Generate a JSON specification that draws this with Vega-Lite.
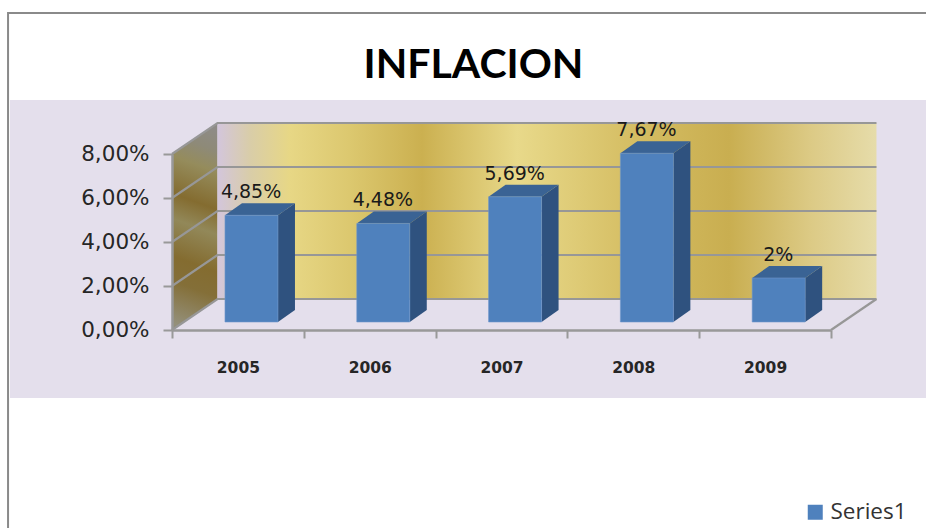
{
"$schema":"https://vega.github.io/schema/vega-lite/v6.json",
"autosize":"none",
"width":659,"height":176,
"padding":{"left":172,"top":154,"right":95,"bottom":198},
"background":"white",
"title":{"text":"INFLACION","font":"Lato","fontSize":41,"fontWeight":"bold","color":"black","anchor":"middle","frame":"group","dx":-28,"offset":-75,"zindex":1},
"config":{"view":{"stroke":null}},
"datasets":{
"bars":[
{"year":2005,"value":4.85,"label":"4,85%","series":"Series1"},
{"year":2006,"value":4.48,"label":"4,48%","series":"Series1"},
{"year":2007,"value":5.69,"label":"5,69%","series":"Series1"},
{"year":2008,"value":7.67,"label":"7,67%","series":"Series1"},
{"year":2009,"value":2,"label":"2%","series":"Series1"}
],
"grid":[{"level":0},{"level":2},{"level":4},{"level":6},{"level":8}]
},
"layer":[
{"data":{"values":[{}]},"mark":{"type":"rect","fill":"white","stroke":"#8a8a8a","strokeWidth":2},
 "encoding":{"x":{"datum":-1.244,"type":"quantitative","scale":{"domain":[0,5],"nice":false,"zero":false},
   "axis":{"title":null,"values":[0,0.5,1,1.5,2,2.5,3,3.5,4,4.5,5],"grid":false,"zindex":1,"domainColor":"#999999","domainWidth":2.5,"tickColor":"#999999","tickWidth":2,"tickSize":8,
   "tickOpacity":{"condition":{"test":"datum.value % 1 != 0","value":0},"value":1},
   "labelExpr":"datum.value % 1 != 0 ? '' + (2005 + floor(datum.value)) : ''","labelFont":"DejaVu Sans","labelFontWeight":"bold","labelFontSize":15.5,"labelColor":"#262626","labelPadding":22,"labelOverlap":false,"labelFlush":false,"labelBound":false}},
  "x2":{"datum":5.75},
  "y":{"datum":14.41,"type":"quantitative","scale":{"domain":[0,8],"nice":false,"zero":false},
   "axis":{"title":null,"values":[0,2,4,6,8],"grid":false,"zindex":1,"domainColor":"#999999","domainWidth":2.5,"tickColor":"#999999","tickWidth":2,"tickSize":9,
   "labelExpr":"replace(format(datum.value,'.2f'),'.',',') + '%'","labelFont":"DejaVu Sans","labelFontSize":21.5,"labelColor":"#262626","labelPadding":14,"labelOverlap":false,"labelBound":false,"labelFlush":false}},
  "y2":{"datum":-9.55}}},
{"data":{"values":[{}]},"mark":{"type":"rect","fill":"#e4dfec"},
 "encoding":{"x":{"datum":-1.229,"type":"quantitative"},"x2":{"datum":5.75},"y":{"datum":10.45,"type":"quantitative"},"y2":{"datum":-3.09}}},
{"data":{"values":[{"d":0},{"d":1}]},
 "transform":[{"calculate":"datum.d*0.345","as":"wx"},{"calculate":"datum.d*1.41","as":"wb"},{"calculate":"8+datum.d*1.41","as":"wt"}],
 "mark":{"type":"area","orient":"vertical","color":{"gradient":"linear","x1":0.54,"y1":0,"x2":0.46,"y2":1,"stops":[
   {"offset":0,"color":"#8e8b86"},{"offset":0.1,"color":"#8e8a78"},{"offset":0.2,"color":"#958c5c"},{"offset":0.38,"color":"#846c30"},{"offset":0.5,"color":"#928859"},{"offset":0.68,"color":"#846c30"},{"offset":0.8,"color":"#846f38"},{"offset":1,"color":"#94907a"}]}},
 "encoding":{"x":{"field":"wx","type":"quantitative"},"y":{"field":"wb","type":"quantitative","stack":null},"y2":{"field":"wt"}}},
{"data":{"values":[{}]},
 "mark":{"type":"rect","fill":{"gradient":"linear","x1":0,"y1":0,"x2":1,"y2":0,"stops":[
   {"offset":0,"color":"#d3c6dc"},{"offset":0.05,"color":"#d9cda8"},{"offset":0.11,"color":"#e7d785"},{"offset":0.2,"color":"#dcc86f"},{"offset":0.31,"color":"#cbb050"},{"offset":0.455,"color":"#e8d98a"},{"offset":0.62,"color":"#d6bf65"},{"offset":0.776,"color":"#c9ae50"},{"offset":0.9,"color":"#dcca85"},{"offset":1,"color":"#e6dcaa"}]}},
 "encoding":{"x":{"datum":0.345,"type":"quantitative"},"x2":{"datum":5.345},"y":{"datum":1.41,"type":"quantitative"},"y2":{"datum":9.41}}},
{"data":{"name":"grid"},
 "transform":[{"calculate":"[0,1,2]","as":"k"},{"flatten":["k"]},
   {"calculate":"datum.k==0 ? 0 : datum.k==1 ? 0.345 : 5.345","as":"gx"},
   {"calculate":"datum.level + (datum.k==0 ? 0 : 1.41)","as":"gy"}],
 "mark":{"type":"line","color":"#979797","strokeWidth":2.2},
 "encoding":{"x":{"field":"gx","type":"quantitative","sort":null},"y":{"field":"gy","type":"quantitative"},"detail":{"field":"level"},"order":{"field":"k"}}},
{"data":{"values":[{}]},"mark":{"type":"rule","color":"#979797","strokeWidth":2.2},
 "encoding":{"x":{"datum":5,"type":"quantitative"},"x2":{"datum":5.345},"y":{"datum":0,"type":"quantitative"},"y2":{"datum":1.41}}},
{"data":{"name":"bars"},
 "transform":[{"calculate":"datum.year-2005","as":"i"},{"calculate":"[0,1]","as":"d"},{"flatten":["d"]},
   {"calculate":"datum.i+0.804+datum.d*0.129","as":"sx"},{"calculate":"datum.value+0.364+datum.d*0.545","as":"st"},{"calculate":"0.364+datum.d*0.545","as":"sb"}],
 "mark":{"type":"area","orient":"vertical","color":"#2f527f"},
 "encoding":{"x":{"field":"sx","type":"quantitative"},"y":{"field":"st","type":"quantitative","stack":null},"y2":{"field":"sb"},"detail":{"field":"year"}}},
{"data":{"name":"bars"},
 "transform":[{"calculate":"datum.year-2005","as":"i"},{"calculate":"[0,1]","as":"d"},{"flatten":["d"]},
   {"calculate":"datum.i+0.402+datum.d*0.129","as":"tl"},{"calculate":"datum.i+0.804+datum.d*0.129","as":"tr"},{"calculate":"datum.value+0.364+datum.d*0.545","as":"ty"}],
 "mark":{"type":"area","orient":"horizontal","color":"#3a6394"},
 "encoding":{"y":{"field":"ty","type":"quantitative"},"x":{"field":"tl","type":"quantitative","stack":null},"x2":{"field":"tr"},"detail":{"field":"year"}}},
{"data":{"name":"bars"},
 "transform":[{"calculate":"datum.year-2005","as":"i"},{"calculate":"datum.i+0.402","as":"fl"},{"calculate":"datum.i+0.804","as":"fr"},{"calculate":"datum.value+0.364","as":"ft"},{"calculate":"0.364","as":"fb"}],
 "mark":{"type":"rect","stroke":"#6f97cc","strokeWidth":0.6},
 "encoding":{"x":{"field":"fl","type":"quantitative"},"x2":{"field":"fr"},"y":{"field":"ft","type":"quantitative"},"y2":{"field":"fb"},
  "color":{"field":"series","type":"nominal","scale":{"domain":["Series1"],"range":["#4f81bd"]},
   "legend":{"title":null,"orient":"none","legendX":632,"legendY":347,"symbolType":"square","symbolSize":225,"symbolStrokeWidth":0,"labelFont":"Open Sans","labelFontSize":22.5,"labelColor":"#333333","labelOffset":4,"padding":0}}}},
{"data":{"name":"bars"},
 "transform":[{"calculate":"datum.year-2005+0.6","as":"lx"},{"calculate":"datum.value+0.364","as":"ly"}],
 "mark":{"type":"text","font":"DejaVu Sans","fontSize":19,"color":"#1a1a1a","baseline":"alphabetic","align":"center","dy":-17},
 "encoding":{"x":{"field":"lx","type":"quantitative"},"y":{"field":"ly","type":"quantitative"},"text":{"field":"label"}}}
]
}
